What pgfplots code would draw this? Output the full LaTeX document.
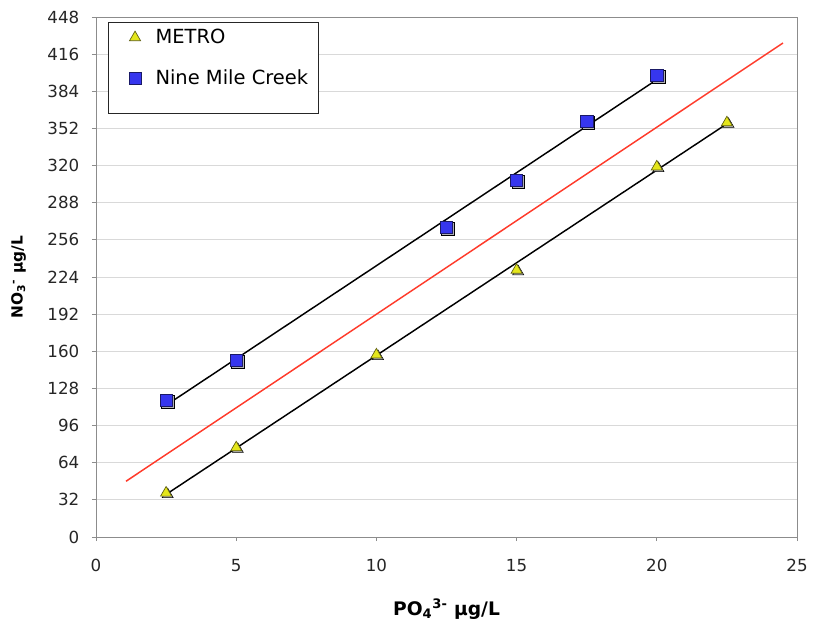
\documentclass[border=0pt]{standalone}
\usepackage{fontspec}
\setmainfont{DejaVu Sans}
\usepackage{pgfplots}
\pgfplotsset{compat=1.18}

\definecolor{metroY}{HTML}{E4E61C}
\definecolor{metroE}{HTML}{5E5E10}
\definecolor{nmcB}{HTML}{3636EE}
\definecolor{nmcE}{HTML}{1A1A66}
\definecolor{redL}{HTML}{FF3B2B}

\pgfplotstableread{
x y
2.5 38
5 77
10 157
15 230
20 319
22.5 357
}\metro

\pgfplotstableread{
x y
2.5 118
5 152.5
12.5 267
15 307.6
17.5 358.4
20 398
}\nmc

\pgfplotsset{
  mylegimg/.style={legend image code/.code={
    \path (0pt,0pt) (26.8pt,0pt);
    \draw[mark repeat=2,mark phase=2,##1] plot coordinates {(0pt,0pt) (13.75pt,0pt) (26pt,0pt)};}}
}

\begin{document}
\begin{tikzpicture}
\begin{axis}[
  scale only axis, width=525.75pt, height=390pt,
  xmin=0, xmax=25, ymin=0, ymax=448,
  xtick={0,5,...,25}, ytick={0,32,...,448},
  ymajorgrids, grid style={color=black!15, line width=0.6pt},
  axis line style={black!45, line width=0.7pt},
  tick style={black!45, line width=0.6pt},
  tick align=outside, major tick length=3pt,
  xtick pos=bottom, ytick pos=left,
  /pgf/number format/assume math mode=true,
  ticklabel style={font=\fontsize{12.5}{15}\selectfont, text=black!85},
  xticklabel style={yshift=-10pt},
  yticklabel style={xshift=-6pt},
  xlabel={\textbf{PO\textsubscript{4}\textsuperscript{3-} µg/L}},
  ylabel={\textbf{NO\textsubscript{3}\textsuperscript{-} µg/L}},
  every axis x label/.style={at={(rel axis cs:0.5,-0.1513)}, anchor=base, font=\fontsize{14}{17}\selectfont},
  every axis y label/.style={at={(rel axis cs:-0.1103,0.5)}, anchor=center, rotate=90, font=\fontsize{11.5}{14}\selectfont},
  legend style={at={(rel axis cs:0.017,0.99)}, anchor=north west, draw=black!85, line width=0.6pt,
    font=\fontsize{14.6}{17.5}\selectfont, inner xsep=6pt, inner ysep=3pt, row sep=14pt,
    /tikz/every even column/.append style={column sep=4pt}},
  legend cell align=left,
]
% shadows
\addplot[only marks, mark=triangle*, mark size=4.8pt, draw=none, fill=black!30, forget plot,
  mark options={xshift=1.2pt, yshift=-1.2pt}] table[x=x,y=y]{\metro};
\addplot[only marks, mark=square*, mark size=4.8pt, draw=none, fill=black!30, forget plot,
  mark options={xshift=1.2pt, yshift=-1.2pt}] table[x=x,y=y]{\nmc};
% markers
\addplot[only marks, mylegimg, mark=triangle*, mark size=4.8pt, mark options={fill=metroY, draw=metroE, line width=0.5pt}] table[x=x,y=y]{\metro};
\addlegendentry{METRO}
\addplot[only marks, mylegimg, mark=square*, mark size=4.6pt, mark options={fill=nmcB, draw=nmcE, line width=0.5pt}] table[x=x,y=y]{\nmc};
\addlegendentry{Nine Mile Creek}
\addlegendimage{empty legend}
\addlegendentry[inner sep=0pt]{}
% trend lines
\addplot[black, line width=1.1pt, forget plot] coordinates {(2.5,36.7) (22.5,356)};
\addplot[black, line width=1.1pt, forget plot] coordinates {(2.5,113.5) (20,394)};
\addplot[redL, line width=1.1pt, forget plot] coordinates {(1.07,48) (24.5,425.6)};
\end{axis}
\pgfresetboundingbox
\path (-72pt,-63.75pt) rectangle (538.5pt,402.75pt);
\end{tikzpicture}
\end{document}
